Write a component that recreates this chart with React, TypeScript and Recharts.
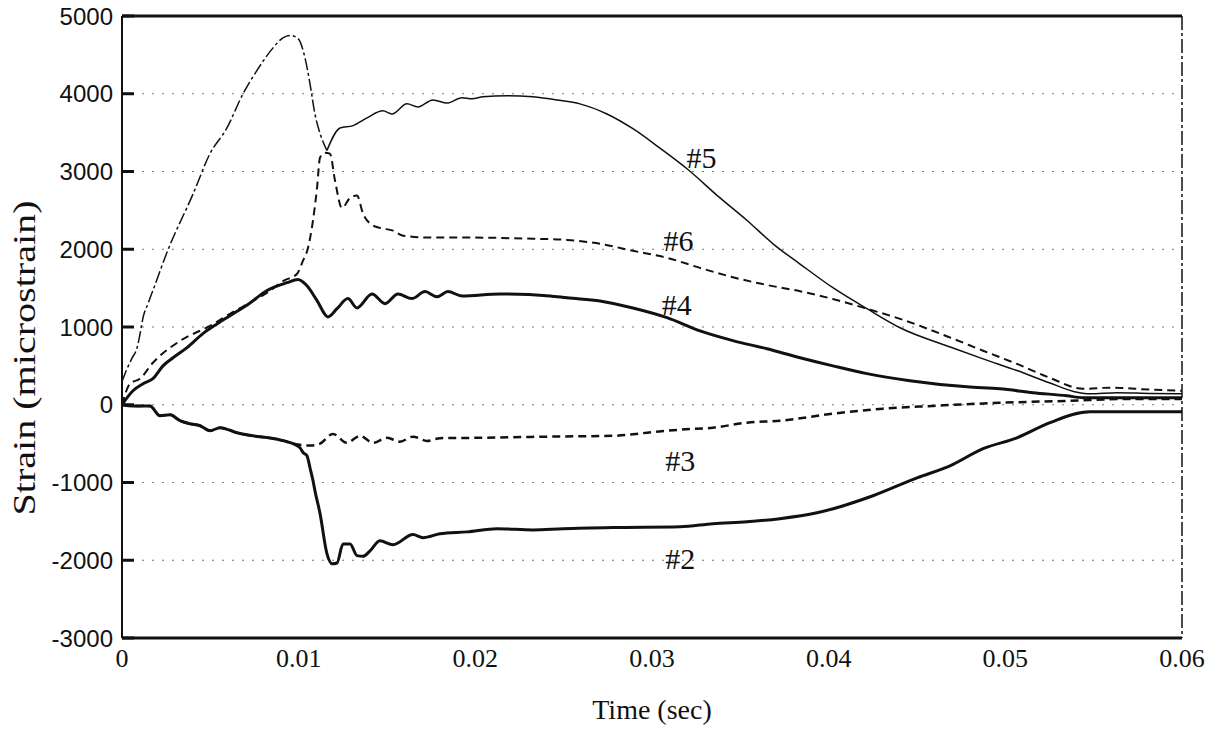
import {
  CartesianGrid,
  Label,
  Line,
  LineChart,
  ReferenceDot,
  ReferenceLine,
  XAxis,
  YAxis,
} from "recharts";

const xTicks = [0, 0.01, 0.02, 0.03, 0.04, 0.05, 0.06];
const yTicks = [-3000, -2000, -1000, 0, 1000, 2000, 3000, 4000, 5000];

// #5 - rising part (dash-dot) up to the crossing, then solid
const t5a = [0, 0.00028, 0.00057, 0.00085, 0.00102, 0.00119, 0.00147, 0.00175, 0.0026, 0.00402, 0.00498, 0.00594, 0.00685, 0.00764, 0.00855, 0.00911, 0.00951, 0.00996, 0.01036, 0.01064, 0.01092, 0.01121, 0.0116];
const v5a = [300, 460, 600, 730, 910, 1120, 1300, 1470, 1990, 2710, 3230, 3560, 4000, 4300, 4590, 4720, 4750, 4710, 4460, 4130, 3740, 3490, 3270];
const t5b = [0.0116, 0.01234, 0.01308, 0.01387, 0.01477, 0.01528, 0.01613, 0.01675, 0.0176, 0.0184, 0.01924, 0.01981, 0.02043, 0.02179, 0.02326, 0.02462, 0.02592, 0.02745, 0.02892, 0.03045, 0.03198, 0.03385, 0.03538, 0.03685, 0.03838, 0.04024, 0.04217, 0.04404, 0.04704, 0.04874, 0.05066, 0.05253, 0.05406, 0.05479, 0.05632, 0.05819, 0.06];
const v5b = [3270, 3560, 3590, 3690, 3780, 3740, 3870, 3830, 3920, 3880, 3950, 3935, 3960, 3975, 3960, 3920, 3870, 3740, 3550, 3300, 3035, 2660, 2370, 2070, 1810, 1505, 1235, 990, 730, 590, 440, 280, 160, 140, 155, 145, 140];

// #6 dashed
const t6 = [0, 0.00045, 0.00102, 0.00175, 0.00328, 0.00498, 0.00611, 0.00742, 0.00838, 0.00911, 0.00991, 0.01024, 0.01053, 0.01081, 0.01104, 0.01121, 0.01149, 0.01177, 0.01206, 0.01245, 0.01291, 0.0133, 0.01364, 0.01404, 0.0146, 0.01534, 0.01591, 0.01743, 0.01953, 0.02326, 0.02519, 0.02706, 0.02892, 0.03085, 0.03272, 0.03458, 0.03651, 0.03838, 0.04024, 0.04217, 0.04404, 0.04704, 0.04874, 0.05066, 0.05253, 0.0544, 0.05592, 0.05819, 0.06];
const v6 = [0, 270, 335, 540, 820, 1015, 1170, 1335, 1465, 1590, 1685, 1850, 2020, 2370, 2790, 3180, 3240, 3230, 2880, 2530, 2660, 2690, 2460, 2330, 2275, 2240, 2175, 2150, 2150, 2135, 2120, 2070, 1980, 1890, 1760, 1640, 1540, 1460, 1360, 1235, 1105, 850, 695, 525, 345, 205, 220, 195, 180];

// #4 thick solid
const t4 = [0, 0.00062, 0.00119, 0.00175, 0.00232, 0.00289, 0.00368, 0.00458, 0.00538, 0.00611, 0.00725, 0.00821, 0.00934, 0.00996, 0.01047, 0.01104, 0.01166, 0.01217, 0.01279, 0.0133, 0.01415, 0.01489, 0.01562, 0.01641, 0.01715, 0.01783, 0.01845, 0.01924, 0.0214, 0.02423, 0.02519, 0.02706, 0.02892, 0.03085, 0.03272, 0.03458, 0.03651, 0.03838, 0.04024, 0.04217, 0.0446, 0.04783, 0.0497, 0.05157, 0.05349, 0.0544, 0.05723, 0.06];
const v4 = [0, 180, 270, 335, 500, 605, 735, 915, 1040, 1145, 1310, 1470, 1570, 1610, 1530, 1340, 1130, 1235, 1365, 1245, 1425, 1300, 1425, 1365, 1455, 1390, 1455, 1400, 1425, 1400, 1375, 1335, 1245, 1120, 950, 825, 720, 605, 500, 400, 310, 230, 205, 155, 115, 90, 90, 90];

// #3 dashed
const t3 = [0, 0.00062, 0.00158, 0.00215, 0.00272, 0.00328, 0.00385, 0.00442, 0.00498, 0.00555, 0.00651, 0.00741, 0.00855, 0.00934, 0.00968, 0.01064, 0.01121, 0.01194, 0.01273, 0.01347, 0.01421, 0.015, 0.01573, 0.01647, 0.01726, 0.018, 0.02026, 0.02406, 0.02779, 0.02972, 0.03159, 0.03345, 0.03538, 0.03724, 0.04024, 0.04307, 0.0459, 0.04969, 0.05349, 0.05723, 0.06];
const v3 = [0, -15, -15, -140, -130, -205, -245, -270, -335, -295, -360, -400, -435, -475, -500, -525, -500, -375, -490, -400, -490, -425, -475, -410, -465, -430, -425, -410, -400, -360, -320, -295, -230, -205, -115, -50, -15, 25, 50, 75, 75];

// #2 thick solid
const t2 = [0, 0.00062, 0.00158, 0.00215, 0.00272, 0.00328, 0.00385, 0.00442, 0.00498, 0.00555, 0.00651, 0.00741, 0.00855, 0.00934, 0.00968, 0.01008, 0.01025, 0.01047, 0.01064, 0.01081, 0.01092, 0.01121, 0.0116, 0.01189, 0.01217, 0.01251, 0.01291, 0.0133, 0.01364, 0.01404, 0.0146, 0.01534, 0.01647, 0.01704, 0.018, 0.01953, 0.02123, 0.02326, 0.02496, 0.02779, 0.03159, 0.03345, 0.03538, 0.03724, 0.03934, 0.04251, 0.045, 0.04687, 0.04874, 0.05066, 0.05253, 0.05479, 0.05723, 0.06];
const v2 = [0, -15, -15, -140, -130, -205, -245, -270, -335, -295, -360, -400, -435, -475, -500, -555, -615, -655, -810, -975, -1105, -1400, -1915, -2045, -2035, -1790, -1790, -1940, -1950, -1880, -1750, -1800, -1670, -1710, -1660, -1635, -1595, -1610, -1595, -1580, -1570, -1530, -1505, -1465, -1390, -1170, -940, -785, -565, -425, -230, -90, -90, -90];

// curve labels
const labelNames = ["#5", "#6", "#4", "#3", "#2"];
const labelT = [0.0328, 0.0315, 0.0314, 0.0316, 0.0316];
const labelV = [3180, 2110, 1290, -720, -1970];

const zip = (ts: number[], vs: number[]) => ts.map((t, i) => ({ t, v: vs[i] }));

const ink = "#111";
const serif = "'Liberation Serif', 'Times New Roman', serif";

const LeftTick = (props: any) => {
  const { x, y, payload } = props;
  return (
    <g>
      <line x1={x + 9} x2={x + 21} y1={y} y2={y} stroke={ink} strokeWidth={3} />
      <text
        x={x}
        y={y}
        textAnchor="end"
        dominantBaseline="central"
        fontFamily="'Liberation Sans', sans-serif"
        fontSize={24}
        fill={ink}
      >
        {payload.value}
      </text>
    </g>
  );
};

const RightTick = (props: any) => {
  const { x, y } = props;
  return <line x1={x - 12} x2={x} y1={y} y2={y} stroke={ink} strokeWidth={3} />;
};

export default function App() {
  return (
    <div style={{ position: "absolute", left: 0, top: 0, background: "#fff" }}>
      <LineChart width={1224} height={733} margin={{ top: 16, right: 0, bottom: 0, left: 0 }}>
        <CartesianGrid vertical={false} stroke="#777" strokeDasharray="2 8" />
        <XAxis
          type="number"
          dataKey="t"
          domain={[0, 0.06]}
          ticks={xTicks}
          height={95}
          tickSize={0}
          tickMargin={11}
          axisLine={{ stroke: ink, strokeWidth: 3 }}
          tick={{ fontFamily: serif, fontSize: 26, fill: ink }}
        >
          <Label
            value="Time (sec)"
            position="insideBottom"
            offset={14}
            style={{ fontFamily: serif, fontSize: 28, fill: ink }}
          />
        </XAxis>
        <YAxis
          type="number"
          domain={[-3000, 5000]}
          ticks={yTicks}
          width={122}
          tickSize={0}
          tickMargin={9}
          axisLine={{ stroke: ink, strokeWidth: 2 }}
          tick={<LeftTick />}
        >
          <Label
            content={() => (
              <text
                x={24}
                y={358}
                transform="rotate(-90 24 358)"
                textAnchor="middle"
                dominantBaseline="central"
                fontFamily={serif}
                fontSize={32}
                textLength={315}
                lengthAdjust="spacingAndGlyphs"
                fill={ink}
              >
                Strain (microstrain)
              </text>
            )}
          />
        </YAxis>
        <YAxis
          yAxisId="r"
          orientation="right"
          type="number"
          domain={[-3000, 5000]}
          ticks={yTicks}
          width={42}
          tickSize={0}
          tickMargin={0}
          axisLine={{ stroke: ink, strokeWidth: 1.5, strokeDasharray: "14 3 3 3" }}
          tick={<RightTick />}
        />
        <ReferenceLine y={5000} stroke={ink} strokeWidth={3} />

        <Line data={zip(t5a, v5a)} dataKey="v" type="monotone" stroke={ink} strokeWidth={1.5} strokeDasharray="12 3 3 3" dot={false} isAnimationActive={false} />
        <Line data={zip(t5b, v5b)} dataKey="v" type="monotone" stroke={ink} strokeWidth={1.5} dot={false} isAnimationActive={false} />
        <Line data={zip(t6, v6)} dataKey="v" type="monotone" stroke={ink} strokeWidth={2} strokeDasharray="8 5" dot={false} isAnimationActive={false} />
        <Line data={zip(t4, v4)} dataKey="v" type="monotone" stroke={ink} strokeWidth={3} dot={false} isAnimationActive={false} />
        <Line data={zip(t3, v3)} dataKey="v" type="monotone" stroke={ink} strokeWidth={2.5} strokeDasharray="8 5" dot={false} isAnimationActive={false} />
        <Line data={zip(t2, v2)} dataKey="v" type="monotone" stroke={ink} strokeWidth={3} dot={false} isAnimationActive={false} />

        {labelNames.map((name, i) => (
          <ReferenceDot
            key={name}
            x={labelT[i]}
            y={labelV[i]}
            r={0}
            stroke="none"
            fill="none"
            label={{ value: name, position: "center", fontFamily: serif, fontSize: 30, fill: ink }}
          />
        ))}
      </LineChart>
    </div>
  );
}
